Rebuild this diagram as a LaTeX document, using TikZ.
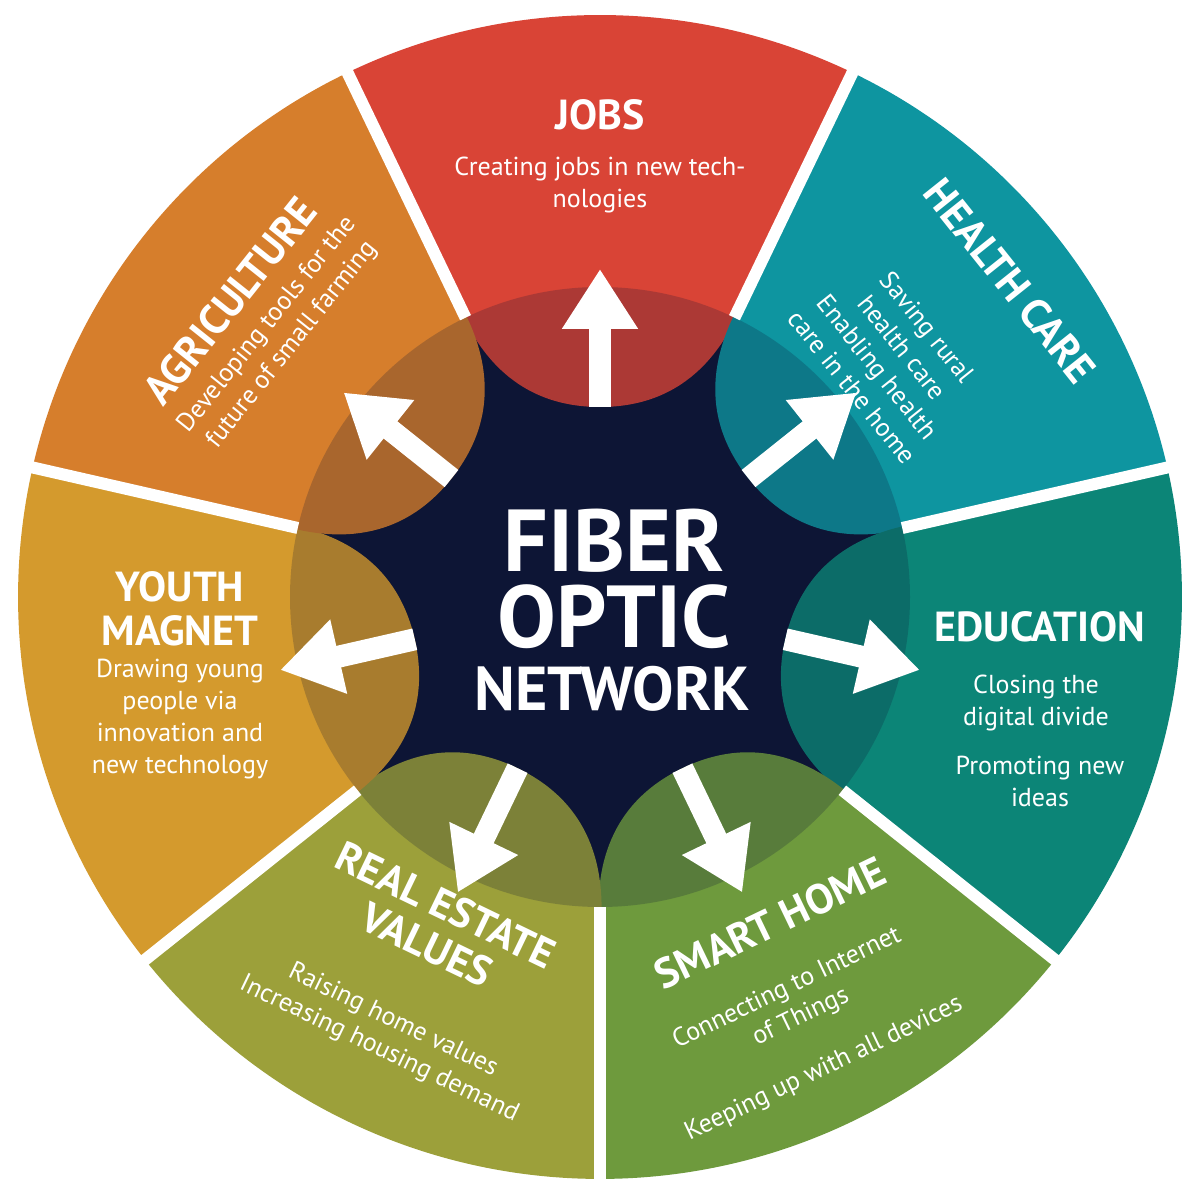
\documentclass[tikz,border=0pt]{standalone}
\usepackage{fontspec}
\setmainfont{PT Sans}
\usetikzlibrary{arrows.meta}
\definecolor{navy}{HTML}{0D1535}
\definecolor{cjobs}{HTML}{D94436}
\definecolor{chealth}{HTML}{0E95A0}
\definecolor{cedu}{HTML}{0C8577}
\definecolor{csmart}{HTML}{6E9A3D}
\definecolor{creal}{HTML}{9CA03A}
\definecolor{cyouth}{HTML}{D49A2D}
\definecolor{cagri}{HTML}{D67E2C}
\tikzset{
 ttl/.style={text=white,font=\fontsize{21}{22}\selectfont\bfseries,align=center},
 dsc/.style={text=white,font=\fontsize{13}{16}\selectfont,align=center},
 arr/.style={white,line width=11pt,-{Triangle[width=36pt,length=30pt]}},
 gap/.style={white,line width=6pt}
}
\newcommand{\sector}[2]{%
 \begin{scope}[rotate=#1-90]
 \fill[#2] (115.7:170pt) -- (115.7:291pt) arc[start angle=115.7,end angle=64.3,radius=291pt]
  -- (64.3:170pt) .. controls (62pt,120pt) and (40pt,95pt) .. (0pt,95pt)
  .. controls (-40pt,95pt) and (-62pt,120pt) .. (115.7:170pt) -- cycle;
 \end{scope}}
\begin{document}
\begin{tikzpicture}[x=1pt,y=1pt]
\useasboundingbox[fill=white] (0,0) rectangle (600,600);
\begin{scope}[shift={(300,301.5)}]
\fill[navy] (0,0) circle[radius=155pt];
\sector{90}{cjobs}
\sector{38.57}{chealth}
\sector{-12.86}{cedu}
\sector{-64.29}{csmart}
\sector{-115.71}{creal}
\sector{-167.14}{cyouth}
\sector{141.43}{cagri}
\fill[navy,opacity=0.22] (0,0) circle[radius=155pt];
\foreach \a in {115.71,64.29,12.86,-38.57,-90,-141.43,167.14}
 \draw[gap] (\a:155pt) -- (\a:300pt);
\foreach \a/\n in {90/aj,38.57/ah,-12.86/ae,-64.29/as,-115.71/ar,-167.14/ay,141.43/aa}{
 \coordinate (\n s) at (\a:95pt);
 \coordinate (\n e) at (\a:164pt);
 \draw[arr] (\n s) -- (\n e);}
\node[text=white,font=\fontsize{44}{44}\selectfont\bfseries] (f1) at (7,28) {FIBER};
\node[text=white,font=\fontsize{44}{44}\selectfont\bfseries] (f2) at (7,-10) {OPTIC};
\node[text=white,font=\fontsize{31}{31}\selectfont\bfseries] (f3) at (6,-46) {NETWORK};
\node[ttl] (tj) at (0,241) {JOBS};
\node[dsc] (dj) at (0,206) {Creating jobs in new tech-\\nologies};
\node[ttl,rotate=-51.4] (th) at (205,158) {HEALTH CARE};
\node[dsc,rotate=-51.4] (dh) at (145,120) {Saving rural\\health care\\Enabling health\\care in the home};
\node[ttl] (te) at (220,-15) {EDUCATION};
\node[dsc] (de1) at (218,-53) {Closing the\\digital divide};
\node[dsc] (de2) at (220,-92) {Promoting new\\ideas};
\node[ttl,rotate=25.7] (ts) at (85,-163) {SMART HOME};
\node[dsc,rotate=25.7] (ds1) at (97,-203) {Connecting to Internet\\of Things};
\node[dsc,rotate=25.7] (ds2) at (112,-236) {Keeping up with all devices};
\node[ttl,rotate=-25.7] (tr) at (-82,-164) {REAL ESTATE\\VALUES};
\node[dsc,rotate=-25.7] (dr) at (-107,-219) {Raising home values\\Increasing housing demand};
\node[ttl] (ty) at (-210,-6) {YOUTH\\MAGNET};
\node[dsc] (dy) at (-210,-61) {Drawing young\\people via\\innovation and\\new technology};
\node[ttl,rotate=51.4] (ta) at (-185,148) {AGRICULTURE};
\node[dsc,rotate=51.4] (da) at (-160,131) {Developing tools for the\\future of small farming};
\end{scope}
\end{tikzpicture}
\end{document}
